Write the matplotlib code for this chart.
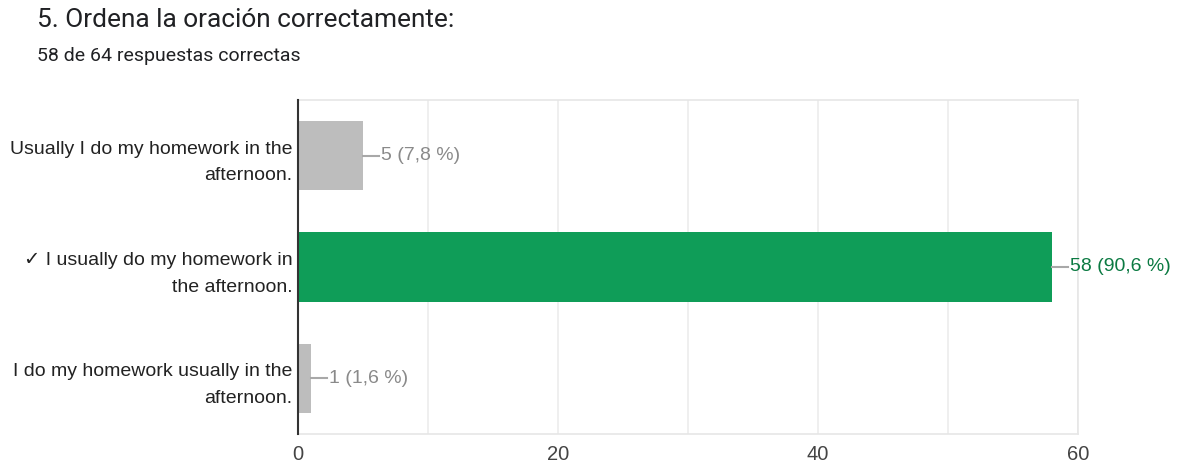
import matplotlib.pyplot as plt

plt.rcParams['font.family'] = ['Liberation Sans', 'DejaVu Sans']

categories = ['Usually I do my homework in the\nafternoon.',
              '\u2713 I usually do my homework in\nthe afternoon.',
              'I do my homework usually in the\nafternoon.']
counts = [5, 58, 1]
labels = ['5 (7,8 %)', '58 (90,6 %)', '1 (1,6 %)']
correct = [False, True, False]
xticks = [0, 20, 40, 60]

fig = plt.figure(figsize=(11.85, 4.66), dpi=100)
ax = fig.add_axes([298 / 1185, 1 - 434 / 466, 780 / 1185, 334 / 466])

ypos = list(range(len(categories)))
colors = ['#0f9d58' if c else '#bdbdbd' for c in correct]
ax.barh(ypos, counts, height=0.625, color=colors, zorder=2)

for y, v, lab, c in zip(ypos, counts, labels, correct):
    txt_color = '#0b7a42' if c else '#8a8a8a'
    ax.plot([v, v + 1.25], [y, y], color='#a8a8a8', lw=1.5, zorder=3, clip_on=False)
    ax.text(v + 1.35, y, lab, va='center', ha='left', fontsize=14, color=txt_color)

ax.set_xlim(0, 60)
ax.set_ylim(2.5, -0.5)
ax.set_xticks(xticks)
ax.set_xticks([10, 30, 50], minor=True)
ax.set_yticks(ypos)
ax.set_yticklabels(categories, fontsize=14, color='#222222', linespacing=1.75)
ax.tick_params(axis='both', which='both', length=0)
ax.tick_params(axis='x', which='major', labelsize=14.5, labelcolor='#444444', pad=8)
ax.tick_params(axis='y', pad=4)
ax.grid(axis='x', which='both', color='#ebebeb', lw=1.1, zorder=0)
for s in ['top', 'right', 'bottom']:
    ax.spines[s].set_color('#e6e6e6')
    ax.spines[s].set_linewidth(1.2)
ax.spines['left'].set_color('#333333')
ax.spines['left'].set_linewidth(1.5)
ax.spines['left'].set_zorder(4)

fig.text(37 / 1185, 1 - 20 / 466, '5. Ordena la oración correctamente:',
         fontsize=18.9, color='#202124', va='center', ha='left',
         family=['Roboto', 'DejaVu Sans'])
fig.text(37 / 1185, 1 - 56 / 466, '58 de 64 respuestas correctas',
         fontsize=14, color='#202124', va='center', ha='left',
         family=['Roboto', 'DejaVu Sans'])

fig.savefig('out.png', dpi=100, facecolor='white')
